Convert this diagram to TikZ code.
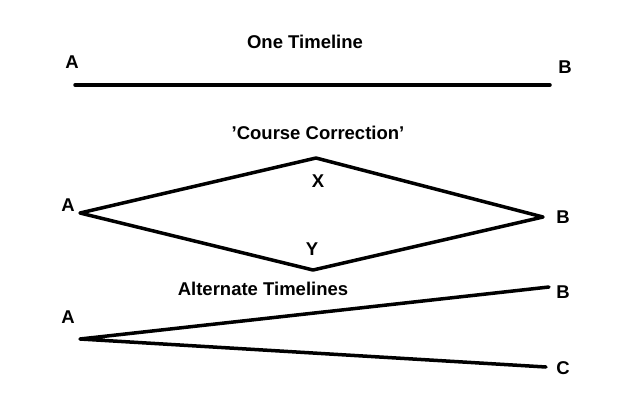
\documentclass[tikz,border=0pt]{standalone}
\usepackage{fontspec}
\setmainfont{Liberation Sans}
\begin{document}
\begin{tikzpicture}[x=1pt,y=-1pt,
  lbl/.style={font=\bfseries\fontsize{18.5}{21}\selectfont, inner sep=0pt},
  tl/.style={line width=3.5pt, line cap=round, line join=round}]
\useasboundingbox[fill=white] (0,0) rectangle (640,400);
\node[lbl] (t1) at (305,42) {One Timeline};
\node[lbl] (a1) at (72,62) {A};
\node[lbl] (b1) at (565,67) {B};
\coordinate (p1) at (75,85);
\coordinate (q1) at (550,85);
\draw[tl] (p1) -- (q1);
\node[lbl] (t2) at (318,133) {\symbol{39}Course Correction\symbol{39}};
\node[lbl] (a2) at (68,205) {A};
\node[lbl] (x2) at (318,181) {X};
\node[lbl] (b2) at (563,217) {B};
\node[lbl] (y2) at (312,249) {Y};
\coordinate (pa) at (80,213);
\coordinate (px) at (316,158);
\coordinate (pb) at (543,217);
\coordinate (py) at (313,270);
\draw[tl] (pa) -- (px) -- (pb) -- (py) -- cycle;
\node[lbl] (t3) at (263,289) {Alternate Timelines};
\node[lbl] (a3) at (68,317) {A};
\node[lbl] (b3) at (563,292) {B};
\node[lbl] (c3) at (563,368) {C};
\coordinate (pa3) at (80,339);
\coordinate (pb3) at (549,287);
\coordinate (pc3) at (546,367);
\draw[tl] (pb3) -- (pa3) -- (pc3);
\end{tikzpicture}
\end{document}
